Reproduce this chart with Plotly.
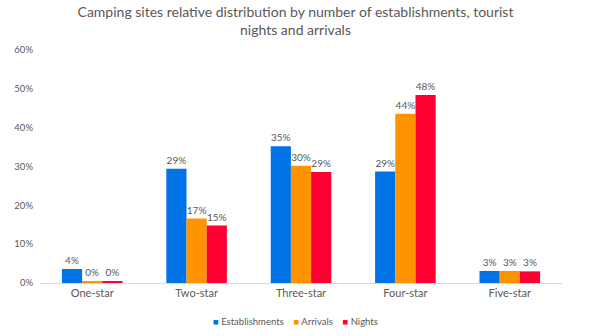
import plotly.graph_objects as go

categories = ["One-star", "Two-star", "Three-star", "Four-star", "Five-star"]
establishments = [0.036, 0.294, 0.352, 0.287, 0.031]
arrivals = [0.003, 0.166, 0.302, 0.436, 0.031]
nights = [0.004, 0.148, 0.286, 0.484, 0.030]

series = [
    ("Establishments", establishments, "#0073E6"),
    ("Arrivals", arrivals, "#FF9400"),
    ("Nights", nights, "#FF0033"),
]

font_family = "Lato, 'Open Sans', sans-serif"
grey = "#595959"

fig = go.Figure()
for name, vals, color in series:
    fig.add_trace(go.Bar(
        name=name,
        x=categories,
        y=vals,
        marker=dict(color=color, line=dict(width=0)),
        texttemplate="%{y:.0%}",
        textposition="outside",
        cliponaxis=False,
        textfont=dict(size=10, color=grey, family=font_family),
        showlegend=False,
    ))

# compact key below the plot: coloured square followed by the series name
nbsp = "\u00a0"
key_parts = [
    f"<span style='color:{color}'>■</span>{nbsp}{name}"
    for name, _, color in series
]
fig.add_annotation(
    text=(nbsp * 4).join(key_parts),
    xref="paper", yref="paper",
    x=0.49, y=-0.165,
    xanchor="center", yanchor="middle",
    showarrow=False,
    font=dict(size=9.5, color=grey, family=font_family),
)

fig.update_layout(
    width=591,
    height=336,
    margin=dict(l=40, r=29, t=50, b=53),
    paper_bgcolor="white",
    plot_bgcolor="white",
    barmode="group",
    bargap=0.42,
    bargroupgap=0,
    font=dict(family=font_family, color=grey),
    title=dict(
        text="Camping sites relative distribution by number of establishments, tourist<br>nights and arrivals",
        x=0.5,
        xanchor="center",
        y=0.95,
        yanchor="top",
        font=dict(size=14, color=grey, family=font_family),
    ),
    xaxis=dict(
        showgrid=False,
        showline=True,
        linecolor="#D9D9D9",
        linewidth=1,
        ticks="",
        tickfont=dict(size=11, color=grey),
    ),
    yaxis=dict(
        range=[0, 0.6],
        dtick=0.1,
        tickformat=".0%",
        showgrid=False,
        zeroline=False,
        showline=False,
        ticklabelstandoff=6,
        tickfont=dict(size=9.5, color=grey),
    ),
    showlegend=False,
)

fig.write_html("out.html")
